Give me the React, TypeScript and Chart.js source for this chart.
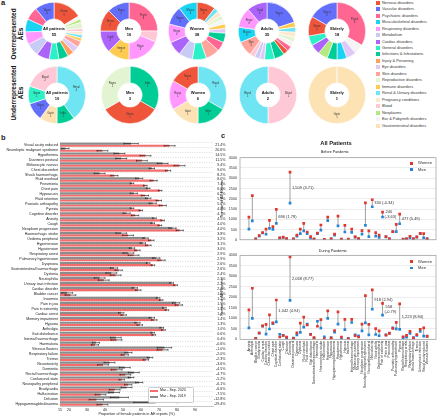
import React, { useEffect, useRef } from "react";
import { Chart, registerables } from "chart.js";

Chart.register(...registerables);

const FONT = "'Liberation Sans', Arial, Helvetica, sans-serif";

/* ================= panel a : data ================= */
const groupNames = [
  "Nervous disorders", "Vascular disorders", "Psychiatric disorders", "Musculoskeletal disorders",
  "Respiratory disorders", "Metabolism", "Cardiac disorders", "General disorders",
  "Infections & Infestations", "Injury & Poisoning", "Eye disorders", "Skin disorders",
  "Reproductive disorders", "Immune disorders", "Renal & Urinary disorders", "Pregnancy conditions",
  "Blood", "Neoplasms", "Ear & Pabyrinth disorders", "Gastrointestinal disorders",
];
const groupKeys = [
  "Nervo", "Vascu", "Psych", "Muscu", "Respi", "Metab", "Cardi", "Gener", "Infec", "Injur",
  "Eye", "Skin", "Repro", "Immun", "Renal", "Pregn", "Blood", "Neopl", "Ear", "Gastr",
];
const groupColors = [
  "#EF553B", "#636EFA", "#FF6692", "#19D3F3", "#FF97FF", "#C9CBF7", "#AB63FA", "#2CF0C6",
  "#00CC96", "#FFA15A", "#E0C8F8", "#FFA49A", "#E3F4D2", "#FECB52", "#6FE4F2", "#FEE7CB",
  "#FFC8D6", "#B6E880", "#F4F4F4", "#FDE2B4",
];

type Slice = [string, number];

const overAll: Slice[] = [["Nervo", 9], ["Ear", 1], ["Neopl", 1], ["Repro", 2], ["Blood", 1], ["Pregn", 1], ["Renal", 1], ["Immun", 1], ["Skin", 2], ["Eye", 2], ["Injur", 2], ["Infec", 3], ["Gener", 3], ["Cardi", 4], ["Metab", 4], ["Respi", 4], ["Muscu", 4], ["Psych", 4], ["Vascu", 6]];
const overMen: Slice[] = [["Psych", 4], ["Blood", 1], ["Respi", 3], ["Immun", 2], ["Cardi", 2], ["Nervo", 2], ["Vascu", 2]];
const overWomen: Slice[] = [["Nervo", 4], ["Renal", 1], ["Pregn", 1], ["Repro", 1], ["Ear", 1], ["Immun", 1], ["Eye", 1], ["Infec", 2], ["Psych", 2], ["Skin", 3], ["Gener", 3], ["Metab", 3], ["Cardi", 3], ["Respi", 4], ["Vascu", 4], ["Muscu", 4]];
const overAdults: Slice[] = [["Vascu", 7], ["Immun", 1], ["Renal", 1], ["Pregn", 1], ["Repro", 1], ["Ear", 1], ["Psych", 1], ["Nervo", 1], ["Infec", 2], ["Gener", 2], ["Eye", 1], ["Metab", 1], ["Blood", 1], ["Skin", 3], ["Muscu", 3], ["Respi", 4], ["Cardi", 4]];
const overElderly: Slice[] = [["Psych", 6], ["Ear", 1], ["Eye", 1], ["Muscu", 1], ["Infec", 1], ["Neopl", 1], ["Cardi", 1], ["Gener", 1], ["Nervo", 2], ["Vascu", 3]];

const underAll: Slice[] = [["Renal", 4], ["Infec", 1], ["Gastr", 1], ["Vascu", 1], ["Gener", 1], ["Blood", 2]];
const underMen: Slice[] = [["Infec", 1], ["Nervo", 1], ["Repro", 1]];
const underWomen: Slice[] = [["Renal", 2], ["Infec", 1], ["Gastr", 1], ["Respi", 1], ["Nervo", 1]];
const underAdults: Slice[] = [["Blood", 1], ["Renal", 1]];
const underElderly: Slice[] = [["Gastr", 1]];

/* ================= panel b : data ================= */
const aeLabels = [
  "Visual acuity reduced", "Neuroleptic malignant syndrome", "Hypothermia", "Dizziness postural", "Melanocytic naevus", "Chest discomfort", "Shock haemorrhagic", "Fluid overload", "Pneumonia", "Chest pain",
  "Hypoacusis", "Fluid retention", "Psoriatic arthropathy", "Pyrexia", "Cognitive disorder", "Anxiety", "Cough", "Neoplasm progression", "Haemorrhagic stroke", "Oedema peripheral",
  "Hypertension", "Hypotension", "Respiratory arrest", "Pulmonary hypertension", "Dyspnoea", "Gastrointestinal haemorrhage", "Dystonia", "Neutrophilia", "Urinary tract infection", "Cardiac disorder",
  "Bladder cancer", "Insomnia", "Pain in jaw", "Pain in extremity", "Cardiac arrest", "Memory impairment", "Hypoxia", "Arthralgia", "Gait disturbance", "Internal haemorrhage",
  "Haematuria", "Vitreous floaters", "Respiratory failure", "Tremor", "Neurotoxicity", "Dementia", "Rectal haemorrhage", "Confusional state", "Neuropathy peripheral", "Bradycardia",
  "Hallucination", "Delusion", "Hypogammaglobulinaemia",
];
const share2019 = [54.5, 18, 48, 49, 72, 66, 37, 59, 55, 64, 56, 64, 66.5, 55, 52, 67.5, 66.5, 77.5, 49, 62.5, 61, 55, 53, 68.5, 64, 45, 43.5, 37, 77, 56.5, 19, 69.5, 79.5, 73, 49, 66, 58, 71.5, 66.5, 46, 35, 73, 53, 65, 42.5, 51, 56, 54.5, 59, 52, 45, 48, 68];
const share2020 = [75.9, 38.6, 62.5, 60.5, 81.4, 75, 45.2, 67, 62.4, 70.6, 62.2, 69.9, 72.1, 59.9, 56.7, 72, 70.5, 81.5, 52.8, 65.7, 64.1, 58, 55.9, 71.4, 66.6, 47.6, 45.9, 39.3, 79.2, 58.5, 20.8, 71.2, 81, 74.4, 50.4, 67.4, 59.3, 72.5, 67.1, 46.4, 34.4, 72, 51, 62.7, 38.9, 46.5, 51.3, 49.3, 52.9, 45.4, 37.5, 35.2, 38.6];
const err2019 = [4, 2, 3, 3, 3, 1.5, 3, 2, 1, 1, 2, 1.5, 2, 1, 2, 1, 1, 2, 3, 1.5, 1.5, 1.5, 3, 2, 1, 2, 3, 3, 1, 1.5, 3, 1, 2, 1, 1.5, 1.5, 1.5, 1, 1, 3, 2, 4, 2, 1.5, 3, 3, 3, 1.5, 2, 3, 3, 5, 12];
const err2020 = [3, 3, 3, 3, 3, 1.5, 2, 2, 1, 1, 2, 1.5, 2, 1, 2, 1, 1, 2, 3, 1.5, 1.5, 1.5, 3, 2, 1, 2, 3, 3, 1, 1.5, 3, 1, 2, 1, 1.5, 1.5, 1.5, 1, 1, 3, 2, 3, 2, 1.5, 3, 3, 3, 1.5, 2, 3, 3, 4, 3];
const changeLabels = [
  "21.4%", "20.6%", "14.5%", "11.5%", "9.4%", "9.0%", "8.2%", "8.0%", "7.4%", "6.6%",
  "6.2%", "5.9%", "5.6%", "4.9%", "4.7%", "4.5%", "4.0%", "4.0%", "3.8%", "3.2%",
  "3.1%", "3.0%", "2.9%", "2.9%", "2.6%", "2.6%", "2.4%", "2.3%", "2.2%", "2.0%",
  "1.8%", "1.7%", "1.5%", "1.4%", "1.4%", "1.4%", "1.3%", "1.0%", "0.6%", "0.4%",
  "-0.6%", "-1.0%", "-2.0%", "-2.3%", "-3.6%", "-4.5%", "-4.7%", "-5.2%", "-6.1%", "-6.6%",
  "-7.5%", "-12.8%", "-29.4%",
];
const xTicksB = [15, 20, 30, 40, 50, 60, 70, 80, 90];

/* ================= panel c : data ================= */
const cLabels = [
  "Anxiety", "Arthralgia", "Bladder cancer", "Bradycardia", "Cardiac arrest", "Cardiac disorder", "Chest discomfort", "Chest pain", "Cognitive disorder", "Confusional state",
  "Cough", "Delusion", "Dementia", "Dizziness postural", "Dyspnoea", "Dystonia", "Fluid overload", "Fluid retention", "Gait disturbance", "Gastrointestinal haemorrhage",
  "Haematuria", "Haemorrhagic stroke", "Hallucination", "Hypertension", "Hypoacusis", "Hypogammaglobulinaemia", "Hypotension", "Hypothermia", "Hypoxia", "Insomnia",
  "Internal haemorrhage", "Melanocytic naevus", "Memory impairment", "Neoplasm progression", "Neuroleptic malignant syndrome", "Neuropathy peripheral", "Neurotoxicity", "Neutrophilia", "Oedema peripheral", "Pain in extremity",
  "Pain in jaw", "Pneumonia", "Psoriatic arthropathy", "Pulmonary hypertension", "Pyrexia", "Rectal haemorrhage", "Respiratory arrest", "Respiratory failure", "Shock haemorrhagic", "Tremor",
  "Urinary tract infection", "Visual acuity reduced", "Vitreous floaters",
];
const beforeWomen = [1100, 2150, 40, 210, 350, 520, 950, 640, 1480, 90, 130, 60, 3300, 40, 230, 520, 800, 380, 150, 40, 320, 720, 20, 1100, 50, 280, 1150, 30, 700, 30, 520, 140, 60, 450, 1800, 430, 1950, 350, 230, 1350, 150, 50, 400, 750, 1250, 30, 50, 170, 50, 140, 310, 300, 50];
const beforeMen = [520, 920, 30, 180, 330, 270, 560, 510, 795, 80, 110, 50, 1790, 30, 180, 300, 430, 300, 80, 20, 300, 470, 10, 930, 40, 230, 680, 20, 380, 20, 360, 130, 50, 280, 700, 150, 1610, 180, 120, 1110, 140, 40, 390, 400, 780, 20, 40, 100, 40, 130, 300, 100, 40];
const duringWomen = [1400, 2430, 40, 300, 640, 710, 1160, 780, 1870, 110, 180, 100, 3920, 50, 310, 770, 1060, 680, 230, 80, 620, 940, 20, 1350, 60, 420, 1310, 110, 950, 20, 950, 170, 110, 720, 2080, 710, 2350, 510, 400, 1710, 200, 280, 520, 810, 1690, 120, 190, 380, 60, 220, 480, 540, 140];
const duringMen = [540, 1000, 50, 290, 630, 250, 490, 750, 830, 240, 190, 60, 1850, 60, 210, 330, 580, 720, 240, 60, 860, 530, 120, 1000, 80, 340, 720, 10, 460, 50, 800, 210, 160, 400, 780, 210, 1430, 230, 170, 1150, 210, 300, 540, 500, 470, 80, 100, 280, 80, 180, 380, 150, 150];
const beforeNotes: [number, string][] = [[12, "1,509 (3.71)"], [8, "686 (1.78)"], [36, "330 (-0.34)"], [39, "240|(-3.63)"], [44, "477 (5.49)"]];
const duringNotes: [number, string][] = [[12, "2,068 (8.77)"], [8, "1,042 (4.94)"], [36, "918 (2.94)"], [39, "558|(-0.79)"], [44, "1,223 (8.84)"]];
const yTicksC = [0, 500, 1000, 1500, 2000, 2500, 3000, 3500, 4000];

/* ================= helpers ================= */
function T(props: { x: number; y: number; children: any; size: number; bold?: boolean; color?: string; align?: "center" | "left" }) {
  const { x, y, size, bold, color, align } = props;
  return (
    <div
      style={{
        position: "absolute",
        left: x,
        top: y,
        transform: align === "left" ? "translate(0,-50%)" : "translate(-50%,-50%)",
        fontFamily: FONT,
        fontSize: size,
        fontWeight: bold ? 700 : 400,
        color: color || "#222",
        whiteSpace: "nowrap",
        lineHeight: 1,
      }}
    >
      {props.children}
    </div>
  );
}

/* ================= donut ================= */
function Donut(props: { slices: Slice[]; title: string; cx: number; cy: number; r: number }) {
  const ref = useRef<HTMLCanvasElement>(null);
  const { slices, title, cx, cy, r } = props;
  useEffect(() => {
    const total = slices.reduce((a, s) => a + s[1], 0);
    const textPlugin = {
      id: "donutText",
      afterDatasetsDraw(chart: any) {
        const ctx = chart.ctx;
        const meta = chart.getDatasetMeta(0);
        ctx.save();
        ctx.textAlign = "center";
        ctx.textBaseline = "middle";
        meta.data.forEach((arc: any, i: number) => {
          const p = arc.getProps(["x", "y", "startAngle", "endAngle", "innerRadius", "outerRadius"], true);
          if (p.endAngle - p.startAngle < 0.5) return;
          const a = (p.startAngle + p.endAngle) / 2;
          const rr = (p.innerRadius + p.outerRadius) / 2;
          const x = p.x + Math.cos(a) * rr;
          const y = p.y + Math.sin(a) * rr;
          ctx.fillStyle = "#333";
          ctx.font = `2.6px ${FONT}`;
          ctx.fillText(slices[i][0], x, y - 1.5);
          ctx.fillText(String(slices[i][1]), x, y + 1.6);
        });
        const ca = chart.chartArea;
        const mx = (ca.left + ca.right) / 2;
        const my = (ca.top + ca.bottom) / 2;
        ctx.fillStyle = "#111";
        ctx.font = `bold 4.1px ${FONT}`;
        ctx.fillText(title, mx, my - 2.6);
        ctx.fillText(String(total), mx, my + 3.4);
        ctx.restore();
      },
    };
    const chart = new Chart(ref.current as HTMLCanvasElement, {
      type: "doughnut",
      data: {
        labels: slices.map((s) => groupNames[groupKeys.indexOf(s[0])]),
        datasets: [
          {
            data: slices.map((s) => s[1]),
            backgroundColor: slices.map((s) => groupColors[groupKeys.indexOf(s[0])]),
            borderColor: "#ffffff",
            borderWidth: 0.6,
          },
        ],
      },
      options: {
        responsive: false,
        animation: false,
        cutout: "42%",
        layout: { padding: 0 },
        plugins: { legend: { display: false }, tooltip: { enabled: false } },
      },
      plugins: [textPlugin],
    } as any);
    return () => chart.destroy();
  }, []);
  return (
    <canvas
      ref={ref}
      width={2 * r}
      height={2 * r}
      style={{ position: "absolute", left: cx - r, top: cy - r, width: 2 * r, height: 2 * r }}
    />
  );
}

/* ================= panel b ================= */
function BarPanel() {
  const ref = useRef<HTMLCanvasElement>(null);
  useEffect(() => {
    const overlay = {
      id: "errAndDiff",
      afterDatasetsDraw(chart: any) {
        const ctx = chart.ctx;
        const xs = chart.scales.x;
        const ys = chart.scales.y;
        const vals = [share2019, share2020];
        const errs = [err2019, err2020];
        ctx.save();
        ctx.beginPath();
        ctx.rect(chart.chartArea.left, chart.chartArea.top, chart.chartArea.right - chart.chartArea.left, chart.chartArea.bottom - chart.chartArea.top);
        ctx.clip();
        ctx.strokeStyle = "#111";
        ctx.lineWidth = 0.6;
        [0, 1].forEach((di) => {
          const meta = chart.getDatasetMeta(di);
          meta.data.forEach((bar: any, i: number) => {
            const v = vals[di][i];
            const e = errs[di][i];
            const x1 = xs.getPixelForValue(v - e);
            const x2 = xs.getPixelForValue(v + e);
            const y = bar.y;
            ctx.beginPath();
            ctx.moveTo(x1, y);
            ctx.lineTo(x2, y);
            ctx.moveTo(x1, y - 0.9);
            ctx.lineTo(x1, y + 0.9);
            ctx.moveTo(x2, y - 0.9);
            ctx.lineTo(x2, y + 0.9);
            ctx.stroke();
          });
        });
        ctx.restore();
        ctx.save();
        ctx.fillStyle = "#222";
        ctx.font = `3.6px ${FONT}`;
        ctx.textAlign = "right";
        ctx.textBaseline = "middle";
        changeLabels.forEach((t, i) => ctx.fillText(t, chart.chartArea.right + 12.5, ys.getPixelForValue(i)));
        ctx.restore();
      },
    };
    const chart = new Chart(ref.current as HTMLCanvasElement, {
      type: "bar",
      data: {
        labels: aeLabels,
        datasets: [
          { label: "Mar - Sep. 2019", data: share2019, backgroundColor: "#8c8c8c" },
          { label: "Mar - Sep. 2020", data: share2020, backgroundColor: "#f46d6d" },
        ],
      },
      options: {
        indexAxis: "y",
        responsive: false,
        animation: false,
        layout: { padding: { left: 0, right: 15, top: 4, bottom: 0 } },
        datasets: { bar: { categoryPercentage: 0.88, barPercentage: 1 } },
        plugins: { legend: { display: false }, tooltip: { enabled: false } },
        scales: {
          x: {
            type: "linear",
            min: 15,
            max: 100,
            afterBuildTicks: (s: any) => {
              s.ticks = xTicksB.map((v) => ({ value: v }));
            },
            grid: { display: false, drawTicks: false },
            border: { display: true, color: "#999", width: 0.5 },
            ticks: { font: { size: 3.6, family: FONT }, color: "#222", padding: 1.5, maxRotation: 0, autoSkip: false },
            title: {
              display: true,
              text: "Proportion of female patients in AE reports (%)",
              font: { size: 3.7, family: FONT },
              color: "#222",
              padding: { top: 0, bottom: 0.5 },
            },
            afterFit: (s: any) => {
              s.height = 11;
            },
          },
          y: {
            grid: { color: "#c4c4c4", lineWidth: 0.5, drawTicks: false },
            border: { display: false, dash: [1.2, 1.2] },
            ticks: { autoSkip: false, font: { size: 3.6, family: FONT }, color: "#222", padding: 2 },
            afterFit: (s: any) => {
              s.width = 60;
            },
          },
        },
      },
      plugins: [overlay],
    } as any);
    return () => chart.destroy();
  }, []);
  return <canvas ref={ref} width={228} height={279} style={{ position: "absolute", left: 0, top: 138, width: 228, height: 279 }} />;
}

/* ================= panel c ================= */
function PairChart(props: { women: number[]; men: number[]; notes: [number, string][]; showX: boolean; top: number; height: number; padTop: number; xH: number }) {
  const ref = useRef<HTMLCanvasElement>(null);
  const { women, men, notes, showX, top, height, padTop, xH } = props;
  useEffect(() => {
    const pairPlugin = {
      id: "pairLines",
      beforeDatasetsDraw(chart: any) {
        const ctx = chart.ctx;
        const xs = chart.scales.x;
        const ys = chart.scales.y;
        ctx.save();
        ctx.strokeStyle = "#7a7a7a";
        ctx.lineWidth = 0.7;
        women.forEach((w, i) => {
          const x = xs.getPixelForValue(i);
          ctx.beginPath();
          ctx.moveTo(x, ys.getPixelForValue(w));
          ctx.lineTo(x, ys.getPixelForValue(men[i]));
          ctx.stroke();
        });
        ctx.restore();
      },
      afterDatasetsDraw(chart: any) {
        const ctx = chart.ctx;
        const xs = chart.scales.x;
        const ys = chart.scales.y;
        const ca = chart.chartArea;
        ctx.save();
        ctx.strokeStyle = "#9a9a9a";
        ctx.lineWidth = 0.7;
        ctx.strokeRect(ca.left, ca.top, ca.right - ca.left, ca.bottom - ca.top);
        ctx.fillStyle = "#333";
        ctx.font = `4px ${FONT}`;
        ctx.textAlign = "left";
        ctx.textBaseline = "middle";
        notes.forEach(([i, text]) => {
          const x = xs.getPixelForValue(i) + 2;
          const y = ys.getPixelForValue((women[i] + men[i]) / 2);
          const parts = text.split("|");
          if (parts.length === 1) ctx.fillText(parts[0], x, y);
          else {
            ctx.fillText(parts[0], x + 1, y - 2.5);
            ctx.fillText(parts[1], x, y + 2.5);
          }
        });
        ctx.restore();
      },
    };
    const chart = new Chart(ref.current as HTMLCanvasElement, {
      type: "scatter",
      data: {
        datasets: [
          { label: "Women", data: women.map((v, i) => ({ x: i, y: v })), backgroundColor: "#E1372B", borderColor: "#E1372B", pointStyle: "rect", pointRadius: 1.9, borderWidth: 0 },
          { label: "Men", data: men.map((v, i) => ({ x: i, y: v })), backgroundColor: "#2585D4", borderColor: "#2585D4", pointStyle: "rect", pointRadius: 1.9, borderWidth: 0 },
        ],
      },
      options: {
        responsive: false,
        animation: false,
        layout: { padding: { top: padTop, right: 2, left: 0, bottom: showX ? 0 : 3.3 } },
        plugins: { legend: { display: false }, tooltip: { enabled: false } },
        scales: {
          x: {
            type: "linear",
            min: -2.6,
            max: 54.6,
            display: showX,
            grid: { display: false, drawTicks: false },
            border: { display: false },
            afterBuildTicks: (s: any) => {
              s.ticks = cLabels.map((_, i) => ({ value: i }));
            },
            ticks: {
              autoSkip: false,
              maxRotation: 90,
              minRotation: 90,
              font: { size: 3.3, family: FONT },
              color: "#222",
              padding: 1.5,
              callback: (v: any) => cLabels[Math.round(v)] ?? "",
            },
            afterFit: (s: any) => {
              s.height = xH;
            },
          },
          y: {
            min: 0,
            max: 4000,
            afterBuildTicks: (s: any) => {
              s.ticks = yTicksC.map((v) => ({ value: v }));
            },
            ticks: { font: { size: 3.7, family: FONT }, color: "#333", padding: 3, callback: (v: any) => String(v) },
            grid: { color: "#e0e0e0", lineWidth: 0.6, drawTicks: false },
            border: { display: false },
            title: { display: true, text: "Number of AE Reports", font: { size: 3.7, family: FONT }, color: "#222", padding: 0 },
            afterFit: (s: any) => {
              s.width = 20;
            },
          },
        },
      },
      plugins: [pairPlugin],
    } as any);
    return () => chart.destroy();
  }, []);
  return <canvas ref={ref} width={220} height={height} style={{ position: "absolute", left: 220, top, width: 220, height }} />;
}

/* ================= App ================= */
export default function App() {
  useEffect(() => {
    document.body.style.margin = "0";
  }, []);
  const R = 29;
  return (
    <div style={{ position: "absolute", left: 0, top: 0, width: 440, height: 417, background: "#fff", overflow: "hidden" }}>
      {/* panel a */}
      <T x={1} y={3} size={7.5} bold align="left">a</T>
      <div
        style={{
          position: "absolute", left: 18, top: 34, transform: "translate(-50%,-50%) rotate(-90deg)",
          fontFamily: FONT, fontSize: 6.4, fontWeight: 700, textAlign: "center", lineHeight: 1.05, whiteSpace: "pre", color: "#111",
        }}
      >
        {"Overrepresented\nAEs"}
      </div>
      <div
        style={{
          position: "absolute", left: 18, top: 93, transform: "translate(-50%,-50%) rotate(-90deg)",
          fontFamily: FONT, fontSize: 6.4, fontWeight: 700, textAlign: "center", lineHeight: 1.05, whiteSpace: "pre", color: "#111",
        }}
      >
        {"Underrepresented\nAEs"}
      </div>
      <Donut slices={overAll} title="All patients" cx={54} cy={31} r={R} />
      <Donut slices={overMen} title="Men" cx={128.5} cy={31} r={R} />
      <Donut slices={overWomen} title="Women" cx={197} cy={31} r={R} />
      <Donut slices={overAdults} title="Adults" cx={267} cy={31} r={R} />
      <Donut slices={overElderly} title="Elderly" cx={337} cy={31} r={R} />
      <Donut slices={underAll} title="All patients" cx={57} cy={95} r={R} />
      <Donut slices={underMen} title="Men" cx={130} cy={95} r={R} />
      <Donut slices={underWomen} title="Women" cx={197.5} cy={95} r={R} />
      <Donut slices={underAdults} title="Adults" cx={267.5} cy={95} r={R} />
      <Donut slices={underElderly} title="Elderly" cx={337} cy={95} r={R} />
      {groupNames.map((g, i) => (
        <React.Fragment key={g}>
          <div style={{ position: "absolute", left: 375.5, top: 2.7 + i * 6.47 - 2, width: 4, height: 4, background: groupColors[i] }} />
          <T x={382} y={2.7 + i * 6.47} size={3.9} color="#333" align="left">{g}</T>
        </React.Fragment>
      ))}

      {/* panel b */}
      <T x={1} y={138} size={7.5} bold align="left">b</T>
      <BarPanel />
      <div style={{ position: "absolute", left: 147.5, top: 386.5, width: 44, height: 14, border: "0.5px solid #ccc", borderRadius: 1.5, background: "rgba(255,255,255,0.9)" }} />
      <div style={{ position: "absolute", left: 150, top: 389.7, width: 8, height: 2.6, background: "#f46d6d" }} />
      <T x={160} y={391} size={3.6} align="left">Mar - Sep. 2020</T>
      <div style={{ position: "absolute", left: 150, top: 395.9, width: 8, height: 2.6, background: "#8c8c8c" }} />
      <T x={160} y={397.2} size={3.6} align="left">Mar - Sep. 2019</T>

      {/* panel c */}
      <T x={221} y={136} size={7.5} bold align="left">c</T>
      <T x={336} y={143.5} size={5.8} bold>All Patients</T>
      <T x={335} y={153} size={3.7}>Before Pandemic</T>
      <PairChart women={beforeWomen} men={beforeMen} notes={beforeNotes} showX={false} top={150} height={95} padTop={7.7} xH={0} />
      <T x={333} y={251.5} size={3.7}>During Pandemic</T>
      <PairChart women={duringWomen} men={duringMen} notes={duringNotes} showX={true} top={250} height={167} padTop={5.3} xH={77.7} />
      {[163.3, 261.7].map((y) => (
        <React.Fragment key={y}>
          <div style={{ position: "absolute", left: 410.4, top: y - 1.4, width: 2.8, height: 2.8, background: "#E1372B" }} />
          <T x={418} y={y} size={4.1} color="#333" align="left">Women</T>
          <div style={{ position: "absolute", left: 410.4, top: y + 6.3 - 1.4, width: 2.8, height: 2.8, background: "#2585D4" }} />
          <T x={418} y={y + 6.3} size={4.1} color="#333" align="left">Men</T>
        </React.Fragment>
      ))}
    </div>
  );
}
